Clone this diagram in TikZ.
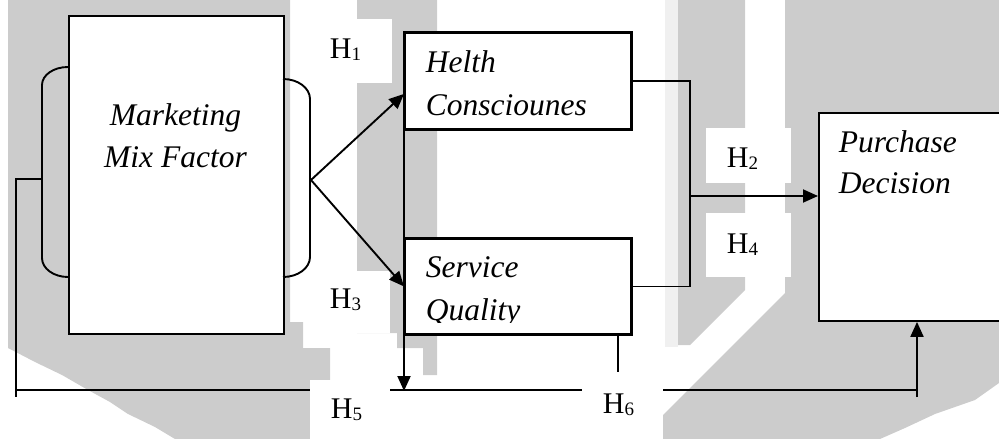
\documentclass[tikz,border=0pt]{standalone}
\usepackage{fontspec}
\setmainfont{Liberation Serif}
\usetikzlibrary{arrows.meta}
\definecolor{wmgrey}{gray}{0.80}
\definecolor{wmlight}{gray}{0.94}
\newcommand\hsub[1]{{\fontsize{19pt}{19pt}\selectfont\raisebox{-2.7pt}{#1}}}
\begin{document}
\begin{tikzpicture}[x=1pt,y=-1pt,
  line width=1.9pt,
  wm/.style={fill=wmgrey,draw=none},
  backdrop/.style={fill=white,draw=none},
  box/.style={draw,fill=white,anchor=north west,inner sep=0pt,line width=1.9pt},
  boxtext/.style={font=\fontsize{31.5pt}{42pt}\selectfont\itshape,inner sep=0pt,anchor=base west},
  hlab/.style={font=\fontsize{30pt}{36pt}\selectfont,inner sep=0pt,anchor=base west},
  arr/.style={-{Triangle[length=15pt,width=13pt]}}]
\useasboundingbox (0,0) rectangle (999,439);
\clip (0,0) rectangle (999,439);

% background watermark blocks
\fill[wm] (8,0) -- (290,0) -- (290,322) -- (303,322) -- (303,348) -- (330,348) -- (330,439)
  -- (175,439) -- (155,427) -- (128,414) -- (110,402) -- (88,390) -- (62,375) -- (35,362) -- (8,348) -- cycle;
\fill[wm] (357,0) -- (437,0) -- (437,375) -- (423,375) -- (423,348) -- (397,348) -- (397,333) -- (357,333) -- cycle;
\fill[wmlight] (665,0) rectangle (678,347);
\fill[wm] (678,0) -- (745,0) -- (745,290) -- (690,345) -- (678,345) -- cycle;
\fill[wm] (785,0) -- (999,0) -- (999,383) -- (975,400) -- (935,414) -- (905,428) -- (880,439)
  -- (663,439) -- (663,415) -- (785,293) -- cycle;

% main boxes
\node[box,minimum width=215pt,minimum height=318pt] (mm) at (68,15) {};
\node[box,minimum width=226pt,minimum height=96pt] (hc) at (404,32) {};
\node[box,minimum width=226pt,minimum height=95pt] (sq) at (404,238) {};
\node[box,minimum width=200pt,minimum height=208pt] (pd) at (818,112) {};

% brackets on both sides of the marketing mix box
\draw (68,67) .. controls (53.6,67) and (42,75) .. (42,85) -- (42,258)
  .. controls (42,268.5) and (53.6,277) .. (68,277);
\draw (283,79) .. controls (298,79) and (310,88) .. (310,99) -- (310,257)
  .. controls (310,268) and (298,277) .. (283,277);

% connector points
\coordinate (lbr) at (42,179);
\coordinate (apex) at (311,180);
\coordinate (join) at (690,196);
\coordinate (ll) at (16,390);
\coordinate (lr) at (917,390);
\coordinate (h6top) at (618,372);

% loop along the bottom into purchase decision
\draw (lbr) -- (lbr -| ll) -- ([yshift=-7pt]ll) (ll) -- (lr) -- ([yshift=-7pt]lr);
\draw[arr] ([yshift=-7pt]lr) -- (lr |- pd.south);

% white backdrops of the hypothesis labels
\fill[backdrop] (320,19) rectangle (392,83);
\fill[backdrop] (320,271) rectangle (390,333);
\fill[backdrop] (706,128) rectangle (791,183);
\fill[backdrop] (706,213) rectangle (791,277);
\fill[backdrop] (310,380) rectangle (390,439);
\fill[backdrop] (582,375) rectangle (663,439);

% redraw box borders over the backdrops
\draw (hc.north west) rectangle (hc.south east);
\draw (sq.north west) rectangle (sq.south east);

% connectors
\draw[arr] (apex) -- ([yshift=-13pt]hc.west);
\draw[arr] (apex) -- (sq.west);
\draw (hc.east) -| (join) |- (sq.east);
\draw[arr] (join) -- (join -| pd.west);
\draw (hc.south west) -- (sq.north west);
\draw[arr] (sq.south west) -- ([yshift=-1pt]sq.south west |- ll);
\draw (h6top |- sq.south) -- (h6top);

% box texts
\node[boxtext,anchor=base] (mmA) at (175.5,125) {Marketing};
\node[boxtext,anchor=base] (mmB) at (175.5,167) {Mix Factor};
\node[boxtext] (hcA) at (425,72) {Helth};
\node[boxtext] (hcB) at (425,115) {Consciounes};
\node[boxtext] (sqA) at (425,277) {Service};
\begin{scope}
  \clip (404,238) rectangle (630,322);
  \node[boxtext] (sqB) at (425,320) {Quality};
\end{scope}
\node[boxtext] (pdA) at (838,152) {Purchase};
\node[boxtext] (pdB) at (838,193) {Decision};

% hypothesis labels
\node[hlab] (h1) at (329,58) {H\hsub{1}};
\node[hlab] (h2) at (726,167) {H\hsub{2}};
\node[hlab] (h3) at (329,308) {H\hsub{3}};
\node[hlab] (h4) at (726,253) {H\hsub{4}};
\node[hlab] (h5) at (330,418) {H\hsub{5}};
\node[hlab] (h6) at (602,413) {H\hsub{6}};
\end{tikzpicture}
\end{document}
